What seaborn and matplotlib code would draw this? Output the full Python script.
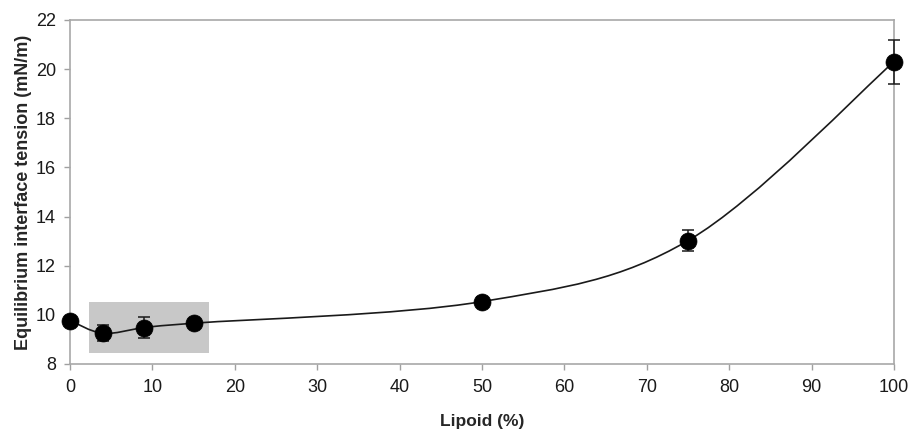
import numpy as np
import pandas as pd
import matplotlib
matplotlib.use("Agg")
import matplotlib.pyplot as plt
from matplotlib.path import Path
from matplotlib.patches import PathPatch, Rectangle
import seaborn as sns

# Data
lipoid = [0, 4, 9, 15, 50, 75, 100]
tension = [9.77, 9.25, 9.48, 9.66, 10.54, 13.02, 20.3]
tension_err = [0.0, 0.33, 0.44, 0.0, 0.2, 0.42, 0.9]
highlight_x = [2.35, 16.85]
highlight_y = [8.44, 10.54]
x_ticks = [0, 10, 20, 30, 40, 50, 60, 70, 80, 90, 100]
y_ticks = [8, 10, 12, 14, 16, 18, 20, 22]
x_label = "Lipoid (%)"
y_label = "Equilibrium interface tension (mN/m)"

sns.set_style("white")
plt.rcParams['font.family'] = ['Liberation Sans', 'DejaVu Sans']

df = pd.DataFrame({"lipoid": lipoid, "tension": tension, "err": tension_err})

fig = plt.figure(figsize=(9.1, 4.29), dpi=100)
ax = fig.add_axes([70/910, 1 - 364/429, (894-70)/910, (364-20)/429])

# highlight box
ax.add_patch(Rectangle((highlight_x[0], highlight_y[0]),
                       highlight_x[1]-highlight_x[0], highlight_y[1]-highlight_y[0],
                       facecolor="#c8c8c8", edgecolor="none", zorder=1))

# smoothed line (Excel-style cubic Bezier through the data points)
pts = np.column_stack([df["lipoid"], df["tension"]]).astype(float)
verts = [tuple(pts[0])]
codes = [Path.MOVETO]
n = len(pts)
for i in range(n - 1):
    p0 = pts[i - 1] if i > 0 else pts[i]
    p1 = pts[i]
    p2 = pts[i + 1]
    p3 = pts[i + 2] if i + 2 < n else pts[i + 1]
    c1 = p1 + (p2 - p0) / 6.0
    c2 = p2 - (p3 - p1) / 6.0
    verts += [tuple(c1), tuple(c2), tuple(p2)]
    codes += [Path.CURVE4] * 3
ax.add_patch(PathPatch(Path(verts, codes), facecolor="none", edgecolor="#1a1a1a",
                       linewidth=1.2, zorder=2))

# error bars
ax.errorbar(df["lipoid"], df["tension"], yerr=df["err"], fmt="none",
            ecolor="#1a1a1a", elinewidth=1.1, capsize=4, capthick=1.1, zorder=3,
            clip_on=False)

# markers
sns.scatterplot(data=df, x="lipoid", y="tension", ax=ax, s=150, color="black",
                edgecolor="black", linewidth=0.5, zorder=4, legend=False,
                clip_on=False)

ax.set_xlim(0, 100)
ax.set_ylim(8, 22)
ax.set_xticks(x_ticks)
ax.set_yticks(y_ticks)
ax.set_xlabel(x_label, fontsize=12.5, fontweight="bold", labelpad=13)
ax.set_ylabel(y_label, fontsize=13, fontweight="bold", labelpad=3)
ax.tick_params(axis="both", which="major", labelsize=13, labelcolor="#1a1a1a",
               length=4, width=1, direction="out", color="#a0a0a0",
               bottom=True, left=True, top=False, right=False)
ax.tick_params(axis="x", pad=7)
ax.tick_params(axis="y", pad=6)
for s in ax.spines.values():
    s.set_color("#a8a8a8")
    s.set_linewidth(1.2)

fig.savefig("out.png", dpi=100)
